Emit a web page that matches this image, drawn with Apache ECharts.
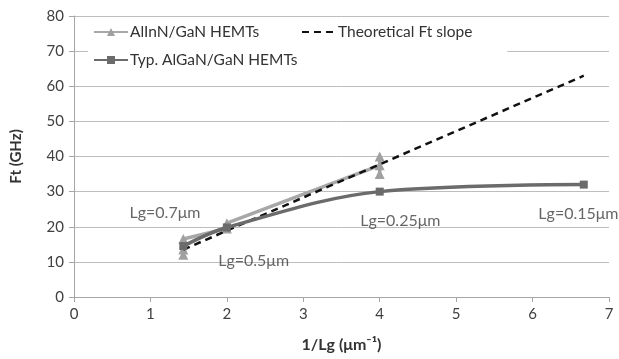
<!DOCTYPE html>
<html><head><meta charset="utf-8">
<script src="https://cdn.jsdelivr.net/npm/echarts@6/dist/echarts.min.js"></script>
<style>html,body{margin:0;padding:0;background:#fff}#c{width:619px;height:359px}</style>
</head><body><div id="c"></div>
<script>
const xTicks = [0,1,2,3,4,5,6,7];
const yTicks = [0,10,20,30,40,50,60,70,80];
const seriesNames = ['AlInN/GaN HEMTs','Typ. AlGaN/GaN HEMTs','Theoretical Ft slope'];
const alinnX = [1.43,1.43,1.43,2,2,4,4,4];
const alinnY = [12,13.5,16.5,19.5,21,37.5,35,40];
const algaX = [1.43,2,4,6.67];
const algaY = [14.5,19.8,30,32];
const theoX = [1.43,6.67];
const theoY = [13.5,63];
const annText = ['Lg=0.7\u03bcm','Lg=0.5\u03bcm','Lg=0.25\u03bcm','Lg=0.15\u03bcm'];
const annX = [1.19,2.35,4.27,6.6];
const annY = [23.9,10.2,21.6,23.7];

const zip = (xs, ys) => xs.map((x,i)=>[x, ys[i]]);
const font = 'Lato, "Open Sans", sans-serif';
const chart = echarts.init(document.getElementById('c'), null, {renderer:'canvas'});
chart.setOption({
  animation:false,
  textStyle:{fontFamily:font},
  grid:{left:74,right:10,top:16,bottom:62},
  xAxis:{type:'value',min:0,max:7,interval:1,
    name:'1/Lg (\u03bcm\u207b\u00b9)',nameLocation:'middle',nameGap:40,
    nameTextStyle:{fontFamily:font,fontSize:16,fontWeight:'bold',color:'#333'},
    axisLine:{show:true,lineStyle:{color:'#a6a6a6'}},
    axisTick:{show:true,length:5,lineStyle:{color:'#a6a6a6'}},
    axisLabel:{fontFamily:font,fontSize:15,color:'#404040',margin:10},
    splitLine:{show:false}},
  yAxis:{type:'value',min:0,max:80,interval:10,
    name:'Ft (GHz)',nameLocation:'middle',nameGap:50,nameRotate:90,
    nameTextStyle:{fontFamily:font,fontSize:15,fontWeight:'bold',color:'#333'},
    axisLine:{show:true,lineStyle:{color:'#a6a6a6'}},
    axisTick:{show:true,length:5,lineStyle:{color:'#a6a6a6'}},
    axisLabel:{fontFamily:font,fontSize:15,color:'#404040',margin:10},
    splitLine:{show:true,lineStyle:{color:'#bdbdbd',width:1}}},
  legend:[
    {data:[seriesNames[0],seriesNames[1]],orient:'vertical',left:88,top:19,itemGap:11,
     itemWidth:34,itemHeight:10,itemGap:12,backgroundColor:'#fff',padding:[5,120,6,5],
     textStyle:{fontFamily:font,fontSize:15.5,color:'#333',padding:[0,0,0,-3]}},
    {data:[{name:seriesNames[2],itemStyle:{opacity:0}}],orient:'vertical',left:296,top:19,
     itemWidth:34,itemHeight:10,backgroundColor:'#fff',padding:[5,35,38,5],
     textStyle:{fontFamily:font,fontSize:15.5,color:'#333',padding:[0,0,0,-3]}}
  ],
  series:[
    {name:seriesNames[2],type:'line',data:zip(theoX,theoY),symbol:'none',z:3,
     lineStyle:{color:'#111',width:2.5,type:[7,5]},itemStyle:{color:'#111'}},
    {name:seriesNames[0],type:'line',data:zip(alinnX,alinnY),symbol:'triangle',symbolSize:10,z:2,
     lineStyle:{color:'#a8a8a8',width:3.5},itemStyle:{color:'#a0a0a0'}},
    {name:seriesNames[1],type:'line',data:zip(algaX,algaY),symbol:'rect',symbolSize:8,smooth:0.35,z:4,
     lineStyle:{color:'#6b6b6b',width:3.5},itemStyle:{color:'#6b6b6b'}},
    {type:'scatter',data:annX.map((x,i)=>({value:[x,annY[i]],label:{formatter:annText[i]}})),
     symbolSize:0,silent:true,z:5,
     label:{show:true,position:'inside',fontFamily:font,fontSize:16,color:'#404040'}}
  ]
});
</script></body></html>
